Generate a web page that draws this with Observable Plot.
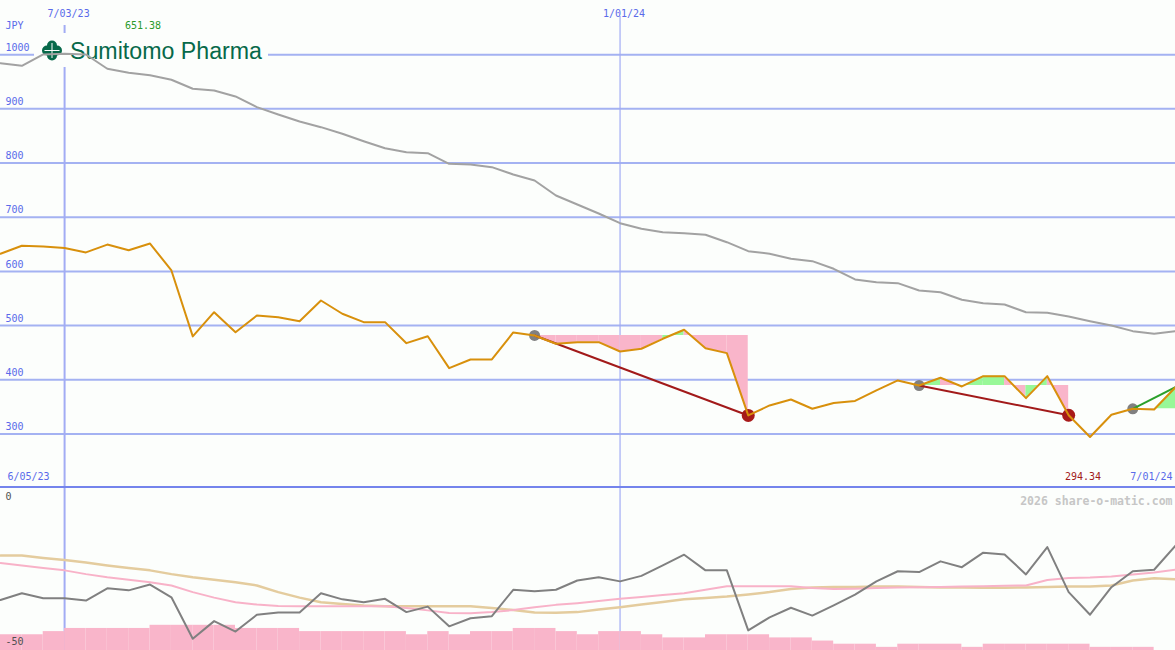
<!DOCTYPE html>
<html>
<head>
<meta charset="utf-8">
<script src="https://cdn.jsdelivr.net/npm/d3@7"></script>
<script src="https://cdn.jsdelivr.net/npm/@observablehq/plot@0.6"></script>
<style>
  body { margin: 0; background: #fcfefc; }
  #chart { position: relative; width: 1175px; height: 650px; overflow: hidden; background: #fcfefc; }
  .layer { position: absolute; left: 0; }
  #logo { position: absolute; left: 34px; top: 33px; width: 234px; height: 34px; background: #fcfefc; }
</style>
</head>
<body>
<div id="chart">
  <div id="upperBg" class="layer" style="top:0"></div>
  <div id="logo">
    <svg width="234" height="34" xmlns="http://www.w3.org/2000/svg">
      <g fill="#07694a">
        <circle cx="18" cy="12.5" r="5"/>
        <circle cx="18" cy="22.5" r="5"/>
        <circle cx="13" cy="17.5" r="5"/>
        <circle cx="23" cy="17.5" r="5"/>
      </g>
      <g stroke="#fcfefc" stroke-width="1">
        <line x1="18" y1="10" x2="18" y2="25"/>
        <line x1="10.5" y1="17.5" x2="25.5" y2="17.5"/>
      </g>
      <text x="36" y="26.3" font-family="'Liberation Sans', Arial, sans-serif" font-size="23" fill="#07694a" textLength="192" lengthAdjust="spacingAndGlyphs">Sumitomo Pharma</text>
    </svg>
  </div>
  <div id="upperFg" class="layer" style="top:0"></div>
  <div id="lowerBg" class="layer" style="top:488px"></div>
  <div id="lowerFg" class="layer" style="top:488px"></div>
</div>
<script>
// ---------------- data (weekly, from 6/12/23 to 7/01/24) ----------------
const firstWeek = "2023-06-12";
const lastWeek = "2024-07-01";

// weekly close, JPY
const priceClose = [
  632.5, 647.3, 646.0, 643.0, 635.0, 649.5, 639.0, 651.38, 601.7, 480.0,
  524.7, 487.8, 518.6, 515.5, 508.0, 546.3, 521.8, 506.3, 506.3, 467.5,
  480.4, 421.4, 437.4, 437.4, 487.3, 481.7, 466.4, 469.4, 469.4, 452.2,
  457.2, 475.6, 492.2, 458.3, 449.1, 334.1, 352.6, 363.6, 346.5, 357.0,
  360.9, 380.4, 398.7, 389.4, 403.6, 387.6, 406.6, 406.6, 366.0, 406.6,
  334.5, 294.34, 335.4, 346.4, 345.2, 386.3
];

// long moving average, JPY
const movingAverage = [
  984.3, 979.5, 1000.4, 1001.7, 1000.4, 974.0, 966.6, 962.2, 953.7, 937.1,
  933.9, 922.9, 903.1, 889.6, 876.7, 866.2, 854.0, 840.3, 827.4, 820.0,
  818.2, 798.6, 797.3, 792.4, 778.9, 767.8, 740.0, 723.5, 706.9, 689.0,
  678.7, 672.4, 670.5, 667.6, 653.9, 637.3, 632.5, 623.3, 618.9, 604.8,
  585.1, 580.1, 578.3, 564.8, 561.6, 547.6, 541.3, 538.9, 524.7, 523.6,
  516.8, 508.1, 500.2, 489.7, 484.9, 489.7
];

// lower panel indicator lines
const oscillator = [
  -33.6, -31.3, -33.0, -33.0, -33.8, -29.6, -30.3, -28.3, -32.7, -47.0,
  -40.9, -44.5, -38.7, -37.9, -37.9, -31.3, -33.4, -34.4, -33.2, -37.8,
  -35.9, -42.7, -39.9, -39.2, -30.1, -30.6, -30.1, -26.9, -25.8, -27.2,
  -25.3, -21.7, -18.0, -23.4, -23.4, -44.1, -39.6, -36.3, -39.0, -35.5,
  -31.8, -27.2, -23.7, -24.0, -20.3, -22.3, -17.3, -17.9, -24.8, -15.4,
  -30.9, -38.7, -29.2, -23.7, -23.2, -14.9
];
const slowLine = [
  -18.3, -18.3, -19.1, -19.8, -20.7, -21.7, -22.6, -23.4, -24.7, -25.8,
  -26.6, -27.5, -28.6, -30.9, -32.8, -34.4, -35.0, -35.5, -35.8, -35.8,
  -35.8, -35.8, -35.8, -36.4, -37.1, -37.9, -38.0, -37.8, -36.9, -36.1,
  -35.2, -34.3, -33.4, -32.9, -32.4, -31.7, -30.9, -29.8, -29.3, -29.1,
  -29.1, -29.0, -29.0, -29.1, -29.3, -29.3, -29.4, -29.4, -29.3, -29.1,
  -29.0, -29.0, -28.6, -26.9, -26.1, -26.5
];
const fastLine = [
  -20.9, -21.7, -22.6, -23.4, -24.7, -25.8, -26.6, -27.5, -28.6, -30.9,
  -32.8, -34.4, -35.2, -35.7, -35.8, -35.8, -35.8, -35.8, -35.8, -36.4,
  -37.2, -38.1, -38.2, -37.8, -37.1, -36.1, -35.3, -34.7, -34.0, -33.2,
  -32.6, -31.9, -31.3, -30.1, -28.9, -28.9, -28.9, -28.9, -29.5, -29.8,
  -29.7, -29.5, -29.3, -29.2, -29.1, -29.0, -28.9, -28.7, -28.6, -26.7,
  -26.0, -25.9, -25.5, -24.8, -24.1, -23.2
];

// relative weekly volume (one bar per week, 54 weeks)
const volumeLevel = [
  5, 5, 6, 7, 7, 7, 7, 8, 8, 8,
  8, 7, 7, 7, 6, 6, 6, 6, 6, 5,
  6, 5, 6, 6, 7, 7, 6, 5, 6, 6,
  5, 4, 4, 5, 5, 5, 4, 4, 3, 2,
  2, 1, 2, 2, 2, 1, 2, 2, 2, 2,
  2, 1, 1, 1
];

const priceTicks = [1000, 900, 800, 700, 600, 500, 400, 300];
const indicatorTicks = [0, -50];
const currencyLabel = "JPY";
const rangeLabels = ["6/05/23", "7/01/24"];
const markerDates = ["2023-07-03", "2024-01-01"];
const watermark = "2026 share-o-matic.com";

const signals = [
  { entry: "2023-12-04", exit: "2024-02-12", closed: true },
  { entry: "2024-04-08", exit: "2024-05-27", closed: true },
  { entry: "2024-06-17", exit: "2024-07-01", closed: false }
];

// ---------------- build ----------------
const BG = "#fcfefc";
const GRID = "#a4b2f2";
const VLINE = "#a2acf4";
const LABEL = "#5a6aea";
const FONT = "'DejaVu Sans Mono', monospace";

const weeks = d3.utcMonday.range(new Date(firstWeek), d3.utcDay.offset(new Date(lastWeek), 1));
const xDomain = [weeks[0], weeks[weeks.length - 1]];
const fmt = d3.utcFormat("%-m/%d/%y");
const idxOf = s => weeks.findIndex(d => +d === +new Date(s));

const rows = weeks.map((date, i) => ({
  date, price: priceClose[i], ma: movingAverage[i],
  osc: oscillator[i], slow: slowLine[i], fast: fastLine[i]
}));
const markers = markerDates.map(s => ({ date: new Date(s), label: fmt(new Date(s)) }));
const volRows = volumeLevel.map((v, i) => ({ start: weeks[i], end: weeks[i + 1], vol: v }));

const fillRows = [], linkRows = [], entryDots = [], exitDots = [];
signals.forEach((s, si) => {
  const a = idxOf(s.entry), b = idxOf(s.exit);
  const level = priceClose[a];
  for (let k = a; k < b; k++) {
    const color = priceClose[k + 1] >= level ? "#98f898" : "#f9b5ca";
    fillRows.push({ seg: si + "-" + k, date: weeks[k], level, price: priceClose[k], color });
    fillRows.push({ seg: si + "-" + k, date: weeks[k + 1], level, price: priceClose[k + 1], color });
  }
  linkRows.push({
    d1: weeks[a], p1: priceClose[a], d2: weeks[b], p2: priceClose[b],
    color: priceClose[b] >= level ? "#2aa02a" : "#a21a1a"
  });
  entryDots.push({ date: weeks[a], price: priceClose[a] });
  if (s.closed) exitDots.push({ date: weeks[b], price: priceClose[b] });
});

const hiIdx = d3.maxIndex(priceClose), loIdx = d3.minIndex(priceClose);

const upperY = { domain: [200, 1100], range: [487.6, 0], axis: null };
const xOpt = { type: "utc", domain: xDomain, axis: null };
const baseStyle = { fontFamily: FONT, fontSize: "10px" };

const upperBg = Plot.plot({
  width: 1175, height: 488, margin: 0,
  x: xOpt, y: upperY,
  style: { ...baseStyle, background: BG },
  marks: [
    Plot.ruleY(priceTicks, { stroke: GRID, strokeWidth: 2 }),
    Plot.ruleX(markers.slice(0, 1), { x: "date", stroke: VLINE, strokeWidth: 2, insetTop: 25 }),
    Plot.ruleX(markers.slice(1), { x: "date", stroke: VLINE, strokeWidth: 1.2, insetTop: 16 }),
    Plot.text(priceTicks, { y: d => d, text: d => String(d), frameAnchor: "left", textAnchor: "start", dx: 5, dy: -7, fill: LABEL }),
    Plot.text([currencyLabel], { text: d => d, frameAnchor: "top-left", textAnchor: "start", dx: 5, dy: 21, fill: LABEL }),
    Plot.text(markers, { x: "date", text: "label", frameAnchor: "top", dx: 4, dy: 9, fill: LABEL }),
    Plot.text(rangeLabels.slice(0, 1), { text: d => d, frameAnchor: "bottom-left", textAnchor: "start", dx: 7, dy: -9, fill: LABEL }),
    Plot.text(rangeLabels.slice(1), { text: d => d, frameAnchor: "bottom-right", textAnchor: "end", dx: -3, dy: -9, fill: LABEL }),
    Plot.ruleY([200], { stroke: "#7484ec", strokeWidth: 2, dy: -1 })
  ]
});
document.getElementById("upperBg").append(upperBg);

const upperFg = Plot.plot({
  width: 1175, height: 488, margin: 0,
  x: xOpt, y: upperY,
  color: { type: "identity" },
  style: { ...baseStyle, background: "transparent" },
  marks: [
    Plot.line(rows, { x: "date", y: "ma", stroke: "#a2a2a2", strokeWidth: 2 }),
    Plot.areaY(fillRows, { x: "date", y1: "level", y2: "price", z: "seg", fill: "color" }),
    Plot.dot(entryDots, { x: "date", y: "price", r: 5.5, fill: "#808080" }),
    Plot.dot(exitDots, { x: "date", y: "price", r: 6.5, fill: "#a81a1a" }),
    Plot.link(linkRows, { x1: "d1", y1: "p1", x2: "d2", y2: "p2", stroke: "color", strokeWidth: 2 }),
    Plot.line(rows, { x: "date", y: "price", stroke: "#d8900c", strokeWidth: 2 }),
    Plot.text([rows[hiIdx]], { x: "date", text: d => d.price.toFixed(2), frameAnchor: "top", dx: -7, dy: 21, fill: "#2a9a2a" }),
    Plot.text([rows[loIdx]], { x: "date", text: d => d.price.toFixed(2), frameAnchor: "bottom", dx: -7, dy: -9, fill: "#a21a1a" })
  ]
});
document.getElementById("upperFg").append(upperFg);

const lowerBg = Plot.plot({
  width: 1175, height: 162, margin: 0,
  x: xOpt,
  y: { domain: [0, 8], range: [162, 136.8], axis: null },
  style: { ...baseStyle, background: BG },
  marks: [
    Plot.ruleX(markers.slice(0, 1), { x: "date", stroke: VLINE, strokeWidth: 2 }),
    Plot.ruleX(markers.slice(1), { x: "date", stroke: VLINE, strokeWidth: 1.2 }),
    Plot.rectY(volRows, { x1: "start", x2: "end", y: "vol", fill: "#f9b5ca" })
  ]
});
document.getElementById("lowerBg").append(lowerBg);

const lowerFg = Plot.plot({
  width: 1175, height: 162, margin: 0,
  x: xOpt,
  y: { domain: [-50, 0], range: [159, 14], axis: null },
  style: { ...baseStyle, background: "transparent" },
  marks: [
    Plot.line(rows, { x: "date", y: "slow", stroke: "#e4cc9e", strokeWidth: 2.5 }),
    Plot.line(rows, { x: "date", y: "fast", stroke: "#f8b2c8", strokeWidth: 2 }),
    Plot.line(rows, { x: "date", y: "osc", stroke: "#808080", strokeWidth: 2 }),
    Plot.text(indicatorTicks, { y: d => d, text: d => String(d), frameAnchor: "left", textAnchor: "start", dx: 5, dy: -6, fill: "#505050" }),
    Plot.text([watermark], { text: d => d, frameAnchor: "top-right", textAnchor: "end", dx: -3, dy: 8, fill: "#c6c6c6", fontWeight: "bold", fontSize: 11.5 })
  ]
});
document.getElementById("lowerFg").append(lowerFg);
</script>
</body>
</html>
